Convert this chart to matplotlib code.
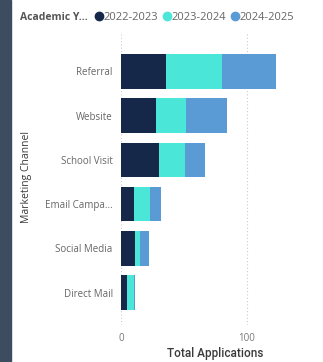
import matplotlib.pyplot as plt
import numpy as np
from matplotlib.lines import Line2D
from matplotlib.patches import Rectangle

# dati
channels = ['Referral', 'Website', 'School Visit', 'Email Campa...', 'Social Media', 'Direct Mail']
years = ['2022-2023', '2023-2024', '2024-2025']
apps_2022 = [36, 28, 30, 10, 11, 5]
apps_2023 = [44, 24, 21, 13, 4, 5]
apps_2024 = [43, 32, 16, 9, 7, 1]
x_ticks = [0, 100]

colori = ['#15284a', '#4ae6d8', '#5b9bd5']
W, H = 323, 362

fig = plt.figure(figsize=(W / 100, H / 100), dpi=100)
fig.patch.set_facecolor('white')

# striscia scura a sinistra
fig.patches.append(Rectangle((0, 0), 11 / W, 1, transform=fig.transFigure,
                             color='#3e4c60', zorder=0))

ax = fig.add_axes([121 / W, (H - 325) / H, (312 - 121) / W, (325 - 33) / H])
y = np.arange(len(channels))
left = np.zeros(len(channels))
for vals, col, lab in zip([apps_2022, apps_2023, apps_2024], colori, years):
    ax.barh(y, vals, left=left, height=0.78, color=col, label=lab, zorder=3)
    left += np.array(vals)

ax.set_ylim(5.73, -0.87)
ax.set_xlim(0, 152)
ax.set_yticks(y)
ax.set_yticklabels(channels, fontsize=7, color='#666666', family='Open Sans')
ax.set_xticks(x_ticks)
ax.set_xticklabels([str(t) for t in x_ticks], fontsize=7, color='#777777', family='Open Sans')
ax.tick_params(length=0, axis='y', pad=6)
ax.tick_params(length=0, axis='x', pad=6)
for s in ax.spines.values():
    s.set_visible(False)
ax.xaxis.grid(True, linestyle=(0, (1, 2)), color='#cccccc', linewidth=0.8, zorder=0)
ax.set_axisbelow(True)

# etichette degli assi
fig.text(215 / W, 1 - 353 / H, 'Total Applications', ha='center', va='center',
         fontsize=8.5, color='#3a3a3a', family='Roboto', fontweight='medium')
fig.text(27 / W, 1 - 177 / H, 'Marketing Channel', ha='center', va='center',
         rotation=90, fontsize=7.5, color='#3a3a3a', family='Open Sans')

# legenda
fig.text(20 / W, 1 - 17 / H, 'Academic Y...', ha='left', va='center',
         fontsize=7.5, color='#555555', fontweight='bold', family='Open Sans')
handles = [Line2D([0], [0], marker='o', linestyle='', markersize=6,
                  markerfacecolor=c, markeredgecolor=c, label=l)
           for c, l in zip(colori, years)]
leg = fig.legend(handles=handles, loc='center left', bbox_to_anchor=(96 / W, 1 - 17 / H),
                 ncol=3, frameon=False, handlelength=0.6, handletextpad=0.1,
                 columnspacing=0.5, borderpad=0, borderaxespad=0,
                 prop={'family': 'Open Sans', 'size': 8})
for t in leg.get_texts():
    t.set_color('#666666')

plt.savefig('out.png', dpi=100)
